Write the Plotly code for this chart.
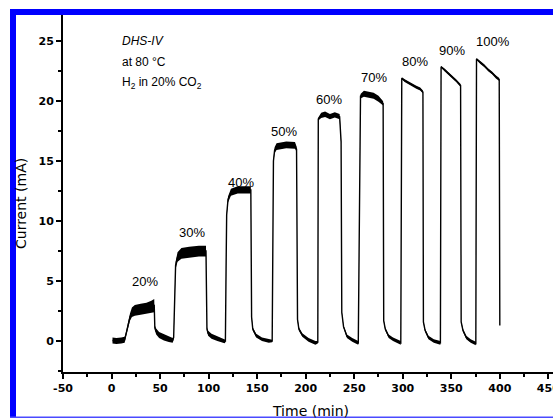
import numpy as np
import plotly.graph_objects as go

# Chronoamperometry of DHS-IV at 80 °C, H2 fed in steps (balance 20% CO2)
time_min = [
    1.0, 5.0, 10.0, 13.5,
    15.0, 17.0, 19.0, 21.0, 24.0, 30.0, 36.0, 41.0, 44.0,
    44.6, 46.0, 49.0, 54.0, 59.0, 63.0,
    64.0, 65.0, 66.0, 68.0, 72.0, 80.0, 90.0, 97.3,
    97.8, 98.3, 99.5, 103.0, 109.0, 116.5,
    117.3, 118.0, 118.6, 120.0, 123.0, 130.0, 138.0, 143.5,
    144.0, 144.3, 145.5, 149.0, 155.0, 162.0, 165.5,
    166.2, 166.8, 168.0, 170.0, 180.0, 189.0, 190.6,
    191.2, 191.6, 193.0, 196.5, 203.0, 210.0, 212.5,
    213.0, 216.0, 220.0, 225.0, 230.0, 235.0, 236.5,
    237.2, 239.0, 242.5, 248.0, 254.2,
    255.5, 256.5, 260.0, 265.0, 270.0, 275.0, 279.8,
    280.4, 282.0, 285.5, 290.0, 298.0,
    299.0, 302.0, 306.0, 310.0, 314.0, 318.0, 320.8,
    321.3, 323.0, 326.5, 332.0, 338.8,
    339.5, 343.0, 347.0, 351.0, 355.0, 359.6,
    360.2, 362.0, 365.5, 370.0, 375.3,
    376.0, 380.0, 384.0, 388.0, 392.0, 396.0, 399.4,
    400.0,
]
current_mA = [
    0.05, 0.00, 0.05, 0.10,
    0.6, 1.4, 2.0, 2.4, 2.55, 2.65, 2.75, 2.85, 2.95,
    1.1, 0.8, 0.5, 0.3, 0.15, 0.05,
    0.3, 4.0, 6.3, 7.0, 7.3, 7.4, 7.5, 7.5,
    3.5, 1.0, 0.65, 0.4, 0.2, 0.0,
    0.0, 6.0, 10.5, 11.8, 12.4, 12.6, 12.6, 12.6,
    6.0, 2.0, 1.0, 0.45, 0.15, 0.0, 0.0,
    8.0, 15.0, 15.9, 16.2, 16.35, 16.3, 16.0,
    8.0, 1.8, 1.0, 0.5, 0.1, -0.15, -0.1,
    18.5, 18.8, 18.9, 18.7, 18.85, 18.7, 16.6,
    2.4, 1.2, 0.4, 0.1, -0.15,
    10.0, 20.4, 20.6, 20.55, 20.45, 20.2, 19.8,
    1.7, 1.0, 0.4, 0.15, -0.15,
    21.9, 21.7, 21.5, 21.3, 21.15, 21.0, 20.75,
    1.6, 0.9, 0.3, 0.0, -0.15,
    22.85, 22.6, 22.3, 22.05, 21.7, 21.3,
    1.6, 0.9, 0.3, 0.0, -0.2,
    23.5, 23.2, 22.95, 22.6, 22.35, 22.0, 21.8,
    1.3,
]
# half-width of the signal noise band around the trace
noise_mA = [
    0.25, 0.25, 0.25, 0.25,
    0.20, 0.25, 0.30, 0.40, 0.45, 0.45, 0.45, 0.50, 0.55,
    0.20, 0.25, 0.25, 0.25, 0.22, 0.20,
    0.15, 0.15, 0.30, 0.40, 0.45, 0.45, 0.45, 0.45,
    0.15, 0.18, 0.20, 0.20, 0.20, 0.18,
    0.10, 0.05, 0.10, 0.25, 0.30, 0.30, 0.30, 0.30,
    0.05, 0.12, 0.15, 0.15, 0.15, 0.15, 0.10,
    0.05, 0.10, 0.25, 0.28, 0.28, 0.28, 0.22,
    0.05, 0.10, 0.15, 0.15, 0.15, 0.15, 0.10,
    0.12, 0.22, 0.22, 0.22, 0.22, 0.22, 0.12,
    0.08, 0.12, 0.15, 0.15, 0.15,
    0.10, 0.18, 0.25, 0.25, 0.25, 0.25, 0.18,
    0.08, 0.12, 0.15, 0.15, 0.15,
    0.08, 0.12, 0.12, 0.12, 0.12, 0.12, 0.12,
    0.08, 0.12, 0.15, 0.15, 0.15,
    0.08, 0.12, 0.12, 0.12, 0.12, 0.12,
    0.08, 0.12, 0.15, 0.15, 0.15,
    0.08, 0.12, 0.12, 0.12, 0.12, 0.12, 0.12,
    0.0,
]

# H2 concentration step labels and where they sit
step_labels = ["20%", "30%", "40%", "50%", "60%", "70%", "80%", "90%", "100%"]
step_label_t = [34.5, 82.4, 133.6, 177.6, 224.4, 270.8, 312.9, 350.5, 392.8]
step_label_i = [5.0, 9.06, 13.2, 17.5, 20.1, 22.0, 23.3, 24.25, 24.95]

x_ticks = [-50, 0, 50, 100, 150, 200, 250, 300, 350, 400, 450]
y_ticks = [0, 5, 10, 15, 20, 25]

W, H = 553, 418
L, R, T, B = 63, 0, 15, 46
X_RANGE = [-50, 454.8]
Y_RANGE = [-2.58, 27.17]


def px_x(px):
    return (px - L) / (W - L - R)


def px_y(py):
    return (H - B - py) / (H - T - B)


t = np.array(time_min)
i = np.array(current_mA)
n = np.array(noise_mA)

fig = go.Figure()
fig.add_trace(go.Scatter(x=t, y=i + n, mode="lines", line=dict(width=0, color="black"),
                         hoverinfo="skip", showlegend=False))
fig.add_trace(go.Scatter(x=t, y=i - n, mode="lines", line=dict(width=0, color="black"),
                         fill="tonexty", fillcolor="black", hoverinfo="skip", showlegend=False))
fig.add_trace(go.Scatter(x=t, y=i, mode="lines", line=dict(width=1.4, color="black"),
                         showlegend=False))

label_font = dict(family="Liberation Sans, Arial", size=13, color="black")
annotations = []
for txt, xv, yv in zip(step_labels, step_label_t, step_label_i):
    annotations.append(dict(x=xv, y=yv, text=txt, showarrow=False, xref="x", yref="y",
                            font=label_font))

info_lines = ["<i>DHS-IV</i>", "at 80 °C", "H<sub>2</sub> in 20% CO<sub>2</sub>"]
info_y = [41, 62, 83]
for txt, py in zip(info_lines, info_y):
    annotations.append(dict(x=px_x(120), y=px_y(py), xref="paper", yref="paper", text=txt,
                            showarrow=False, xanchor="left", yanchor="middle",
                            font=dict(family="Liberation Sans, Arial", size=12, color="black")))

title_font = dict(family="DejaVu Sans", size=14, color="black")
annotations.append(dict(x=px_x(310), y=px_y(411), xref="paper", yref="paper", text="Time (min)",
                        showarrow=False, xanchor="center", yanchor="middle", font=title_font))
annotations.append(dict(x=px_x(21), y=px_y(204), xref="paper", yref="paper", text="Current (mA)",
                        showarrow=False, xanchor="center", yanchor="middle", textangle=-90,
                        font=title_font))

blue = "#0000ff"
shapes = [
    dict(type="rect", xref="paper", yref="paper", x0=px_x(10), x1=px_x(16),
         y0=px_y(418), y1=px_y(9), fillcolor=blue, line=dict(width=0), layer="above"),
    dict(type="rect", xref="paper", yref="paper", x0=px_x(10), x1=px_x(553),
         y0=px_y(15), y1=px_y(9), fillcolor=blue, line=dict(width=0), layer="above"),
    dict(type="line", xref="paper", yref="paper", x0=px_x(10), x1=px_x(553),
         y0=px_y(417.3), y1=px_y(417.3), line=dict(color="#4a4aff", width=1.5), layer="above"),
]

tick_font = dict(family="DejaVu Sans", size=11, color="black", weight="bold")

fig.update_layout(
    width=W, height=H, autosize=False,
    margin=dict(l=L, r=R, t=T, b=B, pad=0, autoexpand=False),
    paper_bgcolor="white", plot_bgcolor="white",
    showlegend=False,
    annotations=annotations,
    shapes=shapes,
    xaxis=dict(
        range=X_RANGE, tickmode="array", tickvals=x_ticks, ticktext=[str(v) for v in x_ticks],
        showgrid=False, zeroline=False, showline=True, linecolor="black", linewidth=2,
        ticks="outside", ticklen=5, tickwidth=1.5, tickcolor="black", tickfont=tick_font,
        ticklabeloverflow="allow", automargin=False,
        minor=dict(dtick=25, tick0=-50, ticks="outside", ticklen=3, tickwidth=1.5, tickcolor="black"),
    ),
    yaxis=dict(
        range=Y_RANGE, tickmode="array", tickvals=y_ticks, ticktext=[str(v) for v in y_ticks],
        showgrid=False, zeroline=False, showline=True, linecolor="black", linewidth=2,
        ticks="outside", ticklen=5, tickwidth=1.5, tickcolor="black", tickfont=tick_font,
        automargin=False,
        minor=dict(dtick=2.5, tick0=0, ticks="outside", ticklen=3, tickwidth=1.5, tickcolor="black"),
    ),
)

fig.write_html("out.html", config={"displayModeBar": False})
